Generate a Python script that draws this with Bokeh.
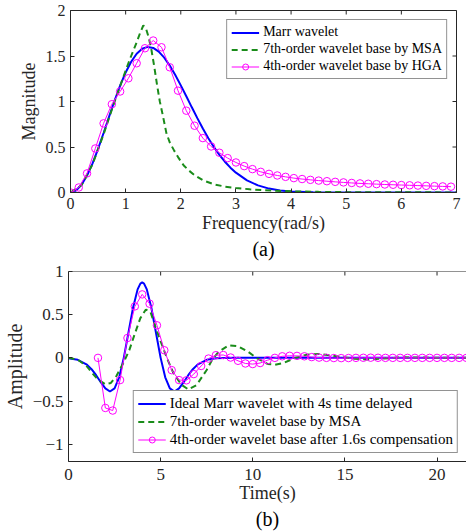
from bokeh.plotting import figure
from bokeh.models import FixedTicker, Range1d, Title, Span
from bokeh.layouts import column
from bokeh.embed import file_html
from bokeh.resources import INLINE

# ---------------- data: (a) frequency domain ----------------
freq_marr = [0.0, 0.1, 0.2, 0.3, 0.4, 0.5, 0.6, 0.7, 0.8, 0.9, 1.0, 1.1, 1.2, 1.3, 1.4, 1.5,
             1.6, 1.7, 1.8, 1.9, 2.0, 2.1, 2.2, 2.3, 2.4, 2.5, 2.6, 2.7, 2.8, 2.9, 3.0, 3.2,
             3.4, 3.6, 3.8, 4.0, 4.4, 5.0, 6.0, 7.0]
mag_marr = [0.0, 0.022, 0.085, 0.187, 0.321, 0.48, 0.654, 0.834, 1.011, 1.175, 1.319, 1.437,
            1.525, 1.579, 1.6, 1.589, 1.548, 1.482, 1.395, 1.292, 1.177, 1.058, 0.936, 0.817,
            0.703, 0.597, 0.5, 0.414, 0.338, 0.273, 0.218, 0.133, 0.078, 0.043, 0.023, 0.012,
            0.003, 0.0, 0.0, 0.0]

freq_msa = [0.0, 0.2, 0.4, 0.6, 0.8, 1.0, 1.1, 1.2, 1.26, 1.32, 1.37, 1.42, 1.47, 1.52, 1.57,
            1.62, 1.68, 1.74, 1.8, 1.88, 1.96, 2.05, 2.15, 2.25, 2.4, 2.6, 2.8, 3.0, 3.25, 3.5,
            4.0, 4.5, 5.0, 6.0, 7.0]
mag_msa = [0.0, 0.08, 0.31, 0.64, 1.0, 1.34, 1.5, 1.65, 1.75, 1.835, 1.8, 1.7, 1.56, 1.38, 1.18,
           1.0, 0.83, 0.65, 0.55, 0.46, 0.38, 0.3, 0.24, 0.19, 0.135, 0.09, 0.065, 0.05, 0.035,
           0.025, 0.013, 0.007, 0.004, 0.002, 0.001]

freq_hga = [0.0, 0.15, 0.3, 0.45, 0.6, 0.75, 0.9, 1.05, 1.2, 1.35, 1.5, 1.65, 1.8, 1.95, 2.1,
            2.25, 2.4, 2.55, 2.7, 2.85, 3.0, 3.15, 3.3, 3.45, 3.6, 3.75, 3.9, 4.05, 4.2, 4.35,
            4.5, 4.65, 4.8, 4.95, 5.1, 5.25, 5.4, 5.55, 5.7, 5.85, 6.0, 6.15, 6.3, 6.45, 6.6,
            6.75, 6.9]
mag_hga = [0.0, 0.055, 0.21, 0.484, 0.76, 0.97, 1.11, 1.255, 1.42, 1.585, 1.67, 1.596, 1.376,
           1.119, 0.899, 0.734, 0.598, 0.506, 0.437, 0.378, 0.33, 0.29, 0.257, 0.227, 0.205,
           0.187, 0.172, 0.158, 0.148, 0.139, 0.131, 0.124, 0.117, 0.111, 0.105, 0.1, 0.096,
           0.092, 0.088, 0.085, 0.082, 0.079, 0.076, 0.073, 0.07, 0.067, 0.064]

freq_ticks = [0, 1, 2, 3, 4, 5, 6, 7]
mag_ticks = [0, 0.5, 1, 1.5, 2]

# ---------------- data: (b) time domain ----------------
time_marr = [0.0, 0.5, 1.0, 1.25, 1.5, 1.75, 2.0, 2.25, 2.5, 2.75, 3.0, 3.25, 3.5, 3.75, 3.9,
             4.0, 4.1, 4.25, 4.5, 4.75, 5.0, 5.25, 5.5, 5.75, 6.0, 6.25, 6.5, 6.75, 7.0, 7.5,
             8.0, 8.5, 9.0, 21.6]
amp_marr = [-0.004, -0.022, -0.078, -0.131, -0.201, -0.282, -0.354, -0.39, -0.354, -0.225, 0.0,
            0.288, 0.578, 0.793, 0.86, 0.873, 0.86, 0.793, 0.578, 0.288, 0.0, -0.225, -0.354,
            -0.39, -0.354, -0.282, -0.201, -0.131, -0.078, -0.022, -0.004, -0.001, 0.0, 0.0]

time_msa = [0.0, 0.5, 1.0, 1.3, 1.6, 2.0, 2.3, 2.6, 3.0, 3.3, 3.6, 3.9, 4.2, 4.45, 4.7, 5.0,
            5.34, 5.7, 6.15, 6.5, 6.95, 7.5, 7.8, 8.15, 8.7, 9.2, 9.75, 10.2, 10.8, 11.2, 11.7,
            12.3, 12.9, 13.6, 14.2, 14.8, 15.5, 16.2, 17.0, 18.0, 19.0, 20.0, 21.6]
amp_msa = [0.0, -0.02, -0.1, -0.18, -0.25, -0.305, -0.29, -0.21, -0.05, 0.09, 0.28, 0.46, 0.56,
           0.53, 0.37, 0.19, 0.0, -0.18, -0.315, -0.365, -0.315, -0.14, -0.02, 0.07, 0.145,
           0.135, 0.07, 0.0, -0.07, -0.08, -0.057, 0.0, 0.035, 0.045, 0.03, 0.01, -0.01,
           -0.018, -0.01, 0.006, 0.005, 0.0, 0.0]

time_hga = [1.6, 2.0, 2.4, 2.8, 3.2, 3.6, 4.0, 4.4, 4.8, 5.2, 5.6, 6.0, 6.4, 6.8, 7.2, 7.6,
            8.0, 8.4, 8.8, 9.2, 9.6, 10.0, 10.4, 10.8, 11.2, 11.6, 12.0, 12.4, 12.8, 13.2,
            13.6, 14.0, 14.4, 14.8, 15.2, 15.6, 16.0, 16.4, 16.8, 17.2, 17.6, 18.0, 18.4,
            18.8, 19.2, 19.6, 20.0, 20.4, 20.8, 21.2, 21.6]
amp_hga = [0.0, -0.58, -0.61, -0.257, 0.23, 0.596, 0.735, 0.627, 0.377, 0.088, -0.142, -0.257,
           -0.26, -0.188, -0.094, -0.008, 0.031, 0.033, 0.004, -0.034, -0.065, -0.072, -0.06,
           -0.027, 0.0, 0.018, 0.024, 0.023, 0.018, 0.009, 0.003, 0.0, -0.002, -0.003, -0.002,
           0.0, 0.001, 0.002, 0.001, 0.0, 0.0, 0.0, 0.0, 0.0, 0.0, 0.0, 0.0, 0.0, 0.0, 0.0, 0.0]

time_ticks = [0, 5, 10, 15, 20]
amp_ticks = [-1, -0.5, 0, 0.5, 1]

FONT = "Liberation Serif"
AX = "#262626"
BLUE = "#0000ff"
GREEN = "#1a8c1a"
MAGENTA = "#ff00ff"
TICK_PX = 4


def style_axis(ax, ticks, label_size, standoff):
    ax.ticker = FixedTicker(ticks=ticks)
    ax.major_tick_in = TICK_PX
    ax.major_tick_out = 0
    ax.minor_tick_line_color = None
    ax.axis_line_color = AX
    ax.major_tick_line_color = AX
    ax.major_label_text_font = FONT
    ax.major_label_text_color = AX
    ax.major_label_text_font_size = label_size
    ax.major_label_standoff = standoff
    ax.axis_label_text_font = FONT
    ax.axis_label_text_font_style = "normal"
    ax.axis_label_text_color = AX


def style_legend(lg, size):
    lg.label_text_font = FONT
    lg.label_text_font_size = size
    lg.label_text_color = "black"
    lg.glyph_width = 28
    lg.glyph_height = 15
    lg.label_height = 15
    lg.label_standoff = 4
    lg.padding = 4
    lg.spacing = 1
    lg.border_line_color = AX
    lg.border_line_width = 1
    lg.background_fill_alpha = 1.0


def top_ticks(p, ticks, xr, yr, frame_h):
    # inward tick marks along the top edge (MATLAB box style)
    ln = (yr.end - yr.start) * TICK_PX / frame_h
    p.segment(x0=ticks, y0=[yr.end] * len(ticks), x1=ticks, y1=[yr.end - ln] * len(ticks),
              line_color=AX, line_width=1)


def right_ticks(p, ticks, xr, frame_w):
    ln = (xr.end - xr.start) * TICK_PX / frame_w
    p.segment(x0=[xr.end] * len(ticks), y0=ticks, x1=[xr.end - ln] * len(ticks), y1=ticks,
              line_color=AX, line_width=1)


# ---------------- figure (a) ----------------
xr1 = Range1d(0, 7)
yr1 = Range1d(0, 2)
p1 = figure(width=466, height=262, x_range=xr1, y_range=yr1,
            output_backend="svg", toolbar_location=None,
            min_border_left=70, min_border_right=10, min_border_top=10, min_border_bottom=70)
p1.frame_align = False
p1.outline_line_color = AX
p1.xgrid.visible = False
p1.ygrid.visible = False
style_axis(p1.xaxis[0], freq_ticks, "16px", 5)
style_axis(p1.yaxis[0], mag_ticks, "16px", 5)
p1.xaxis[0].axis_label = "Frequency(rad/s)"
p1.xaxis[0].axis_label_text_font_size = "18px"
p1.xaxis[0].axis_label_standoff = 1
p1.yaxis[0].axis_label = "Magnitude"
p1.yaxis[0].axis_label_text_font_size = "18px"
p1.yaxis[0].axis_label_standoff = 4
top_ticks(p1, freq_ticks, xr1, yr1, 182)
right_ticks(p1, mag_ticks, xr1, 386)

p1.line(freq_marr, mag_marr, color=BLUE, line_width=2, legend_label="Marr wavelet")
p1.line(freq_msa, mag_msa, color=GREEN, line_width=2, line_dash="6 4",
        legend_label="7th-order wavelet base by MSA")
p1.line(freq_hga, mag_hga, color=MAGENTA, line_width=1,
        legend_label="4th-order wavelet base by HGA")
p1.scatter(freq_hga, mag_hga, marker="circle", size=7.5, fill_color=None,
           line_color=MAGENTA, line_width=1, legend_label="4th-order wavelet base by HGA")
p1.legend.location = "top_right"
p1.legend.margin = 9
style_legend(p1.legend[0], "14px")
p1.add_layout(Title(text="(a)", align="center", text_font=FONT, text_font_size="20px",
                    text_font_style="normal", text_color="black", standoff=0), "below")

# ---------------- figure (b) ----------------
xr2 = Range1d(0, 21.6)
yr2 = Range1d(-1.2, 1)
p2 = figure(width=466, height=270, x_range=xr2, y_range=yr2,
            output_backend="svg", toolbar_location=None,
            min_border_left=66, min_border_right=0, min_border_top=9, min_border_bottom=71)
p2.frame_align = False
p2.outline_line_color = None
p2.xgrid.visible = False
p2.ygrid.visible = False
style_axis(p2.xaxis[0], time_ticks, "17px", 7)
style_axis(p2.yaxis[0], amp_ticks, "17px", 5)
p2.xaxis[0].axis_label = "Time(s)"
p2.xaxis[0].axis_label_text_font_size = "18px"
p2.xaxis[0].axis_label_standoff = 0
p2.yaxis[0].axis_label = "Amplitude"
p2.yaxis[0].axis_label_text_font_size = "20px"
p2.yaxis[0].axis_label_standoff = 4
p2.add_layout(Span(location=yr2.end, dimension="width", line_color=AX, line_width=1))
top_ticks(p2, time_ticks, xr2, yr2, 190)

p2.line(time_marr, amp_marr, color=BLUE, line_width=2,
        legend_label="Ideal Marr wavelet with 4s time delayed")
p2.line(time_msa, amp_msa, color=GREEN, line_width=2, line_dash="6 4",
        legend_label="7th-order wavelet base by MSA")
p2.line(time_hga, amp_hga, color=MAGENTA, line_width=1,
        legend_label="4th-order wavelet base after 1.6s compensation")
p2.scatter(time_hga, amp_hga, marker="circle", size=7.5, fill_color=None,
           line_color=MAGENTA, line_width=1,
           legend_label="4th-order wavelet base after 1.6s compensation")
p2.legend.location = "bottom_right"
p2.legend.margin = 8
style_legend(p2.legend[0], "15px")
p2.add_layout(Title(text="(b)", align="center", text_font=FONT, text_font_size="20px",
                    text_font_style="normal", text_color="black", standoff=0), "below")

layout = column(p1, p2, spacing=0)
open("out.html", "w").write(file_html(layout, INLINE))
